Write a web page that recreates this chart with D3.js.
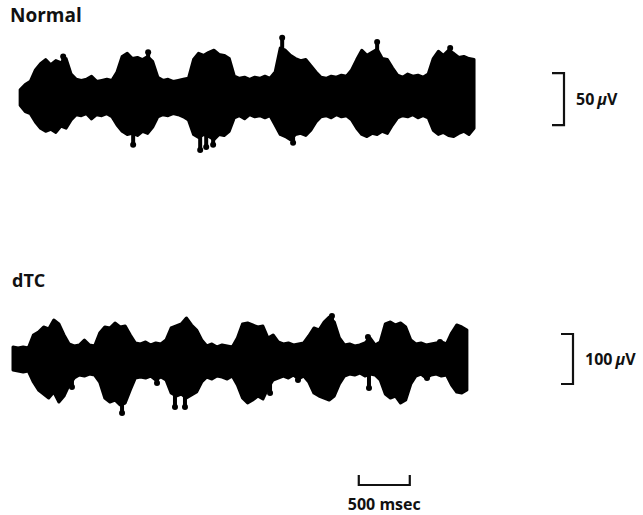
<!DOCTYPE html>
<html>
<head>
<meta charset="utf-8">
<script src="https://cdn.jsdelivr.net/npm/d3@7"></script>
<style>
  body { margin: 0; background: #fff; }
  svg { display: block; }
  text { font-family: "Open Sans", Lato, sans-serif; font-weight: bold; fill: #111; }
</style>
</head>
<body>
<div id="chart"></div>
<script>
var svgWidth = 643;
var svgHeight = 515;

// sampling grid of the envelopes, ms
var sampleStep = 50;
var normalStart = 70;
var dtcStart = 0;

// Normal trace envelope, microvolts (upper / lower edge every 50 ms)
var normalTop = [7, 12, 15, 26, 32, 36, 31, 35, 33, 37, 22, 17, 16, 17, 20, 15, 16, 17, 16, 24,
  39, 42, 37, 38, 36, 39, 34, 19, 16, 17, 15, 16, 17, 18, 36, 42, 40, 43, 45, 41,
  40, 37, 20, 18, 19, 17, 19, 18, 20, 18, 24, 47, 45, 40, 37, 35, 36, 30, 24, 19,
  18, 20, 19, 21, 20, 26, 36, 45, 40, 43, 46, 37, 36, 28, 21, 19, 22, 20, 21, 19,
  22, 37, 44, 40, 45, 42, 38, 39, 37, 36];
var normalBottom = [-8, -14, -16, -24, -30, -33, -31, -34, -28, -30, -22, -17, -18, -16, -21, -17, -18, -16, -19, -27,
  -33, -36, -35, -37, -33, -35, -29, -19, -17, -18, -16, -17, -19, -22, -36, -39, -36, -38, -41, -36,
  -37, -33, -20, -18, -21, -17, -19, -18, -20, -18, -27, -36, -38, -41, -36, -35, -37, -32, -24, -19,
  -18, -20, -17, -19, -18, -22, -30, -36, -38, -35, -36, -33, -35, -27, -20, -18, -19, -17, -20, -18,
  -20, -32, -36, -34, -37, -38, -35, -33, -36, -30];
// isolated spikes beyond the envelope: [time ms, microvolts]
var normalSpikes = [[492, 39], [1178, -46], [1325, 43], [1835, -51], [1894, -48], [1962, -46],
  [2639, 57], [2746, -44], [3570, 53], [4286, 47]];

// dTC trace envelope, microvolts
var dtcTop = [24, 22, 24, 22, 48, 54, 64, 60, 78, 70, 48, 30, 26, 28, 38, 28, 26, 52, 64, 62,
  72, 64, 66, 48, 32, 30, 34, 28, 32, 30, 38, 62, 66, 70, 82, 68, 58, 38, 26, 30,
  24, 28, 26, 24, 42, 70, 72, 68, 64, 66, 42, 48, 34, 30, 32, 28, 30, 32, 46, 62,
  58, 74, 84, 74, 42, 28, 30, 26, 28, 32, 42, 28, 34, 70, 74, 68, 72, 64, 38, 30,
  32, 28, 30, 32, 34, 30, 52, 68, 64, 58];
var dtcBottom = [-22, -24, -26, -24, -46, -62, -70, -78, -66, -86, -74, -52, -38, -32, -34, -30, -32, -46, -78, -86,
  -82, -92, -88, -62, -38, -36, -38, -34, -42, -36, -42, -68, -74, -70, -78, -72, -66, -46, -36, -40,
  -34, -36, -40, -34, -52, -78, -88, -82, -74, -80, -58, -42, -38, -34, -38, -32, -40, -34, -46, -68,
  -74, -78, -82, -74, -50, -34, -30, -32, -28, -34, -30, -32, -42, -70, -78, -74, -88, -82, -50, -34,
  -30, -38, -32, -30, -34, -32, -52, -66, -68, -62];
var dtcSpikes = [[578, -56], [1069, -108], [1412, -48], [1588, -96], [1686, -96], [2520, -68],
  [2794, -42], [3127, 86], [3480, 44], [3490, -58], [4059, -38], [4186, 34]];

// calibration bars
var timeBar = [3390, 3890];       // 500 msec
var normalBar = [-27, 23];        // 50 uV
var dtcBar = [-50, 50];           // 100 uV

var svg = d3.select("#chart")
  .append("svg")
  .attr("width", svgWidth)
  .attr("height", svgHeight);

// shared time scale, 500 ms = 51 px
var x = d3.scaleLinear().domain([0, 4500]).range([13, 472]);

// one amplitude scale per trace
var yNormal = d3.scaleLinear().domain([0, 50]).range([97, 45]);
var yDtc = d3.scaleLinear().domain([0, 100]).range([359, 309]);

function drawTrace(top, bottom, start, spikes, y) {
  var pts = top.map(function(v, i) {
    return { t: start + i * sampleStep, hi: v, lo: bottom[i] };
  });

  var area = d3.area()
    .x(d => x(d.t))
    .y0(d => y(d.lo))
    .y1(d => y(d.hi))
    .curve(d3.curveLinear);

  svg.append("path")
    .datum(pts)
    .attr("d", area)
    .attr("fill", "#000")
    .attr("stroke", "#000")
    .attr("stroke-width", 3)
    .attr("stroke-linejoin", "round");

  // spikes drawn from the baseline out to their peak, ending in a blob
  var g = svg.append("g");
  g.selectAll("line")
    .data(spikes)
    .enter()
    .append("line")
    .attr("x1", d => x(d[0]))
    .attr("x2", d => x(d[0]))
    .attr("y1", y(0))
    .attr("y2", d => y(d[1]))
    .attr("stroke", "#000")
    .attr("stroke-width", 4)
    .attr("stroke-linecap", "round");
  g.selectAll("circle")
    .data(spikes)
    .enter()
    .append("circle")
    .attr("cx", d => x(d[0]))
    .attr("cy", d => y(d[1]))
    .attr("r", 3)
    .attr("fill", "#000");
}

drawTrace(normalTop, normalBottom, normalStart, normalSpikes, yNormal);
drawTrace(dtcTop, dtcBottom, dtcStart, dtcSpikes, yDtc);

// vertical calibration bracket
function ampBar(bar, y, xPos, label) {
  var y0 = y(bar[1]), y1 = y(bar[0]);
  svg.append("path")
    .attr("d", `M${xPos - 12},${y0} H${xPos} V${y1} H${xPos - 12}`)
    .attr("fill", "none")
    .attr("stroke", "#111")
    .attr("stroke-width", 2.2);
  svg.append("text")
    .attr("x", xPos + 12)
    .attr("y", (y0 + y1) / 2 + 6)
    .attr("font-size", "16px")
    .html(label + "<tspan font-style='italic' dx='3'>\u00b5</tspan>V");
}

ampBar(normalBar, yNormal, 564, "50");
ampBar(dtcBar, yDtc, 573, "100");

// time calibration
var bx0 = x(timeBar[0]), bx1 = x(timeBar[1]);
svg.append("path")
  .attr("d", `M${bx0},475 V485 H${bx1} V475`)
  .attr("fill", "none")
  .attr("stroke", "#111")
  .attr("stroke-width", 2.2);
svg.append("text")
  .attr("x", (bx0 + bx1) / 2)
  .attr("y", 510)
  .attr("text-anchor", "middle")
  .attr("font-size", "16px")
  .text("500 msec");

// trace labels
svg.append("text")
  .attr("x", 10)
  .attr("y", 22)
  .attr("font-size", "19px")
  .text("Normal");

svg.append("text")
  .attr("x", 12)
  .attr("y", 287)
  .attr("font-size", "18px")
  .text("dTC");
</script>
</body>
</html>
